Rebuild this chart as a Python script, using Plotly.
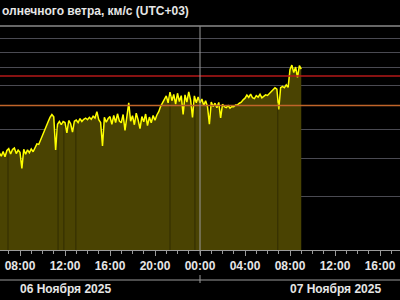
import numpy as np
import pandas as pd
import plotly.graph_objects as go

# ---- data -------------------------------------------------------------
start_time = "2025-11-06 06:10"
step_minutes = 10
speed_kms = [
    418, 408, 423, 406, 426,                 # 06h
    432, 415, 429, 434, 416, 427,            # 07h
    420, 372, 430, 414, 428, 419,            # 08h
    431, 422, 438, 448, 446, 463,            # 09h
    478, 496, 512, 530, 548, 560,            # 10h
    550, 428, 520, 531, 518, 531,            # 11h
    527, 487, 535, 522, 490, 532,            # 12h
    537, 527, 543, 531, 540, 545,            # 13h
    538, 548, 540, 553, 545, 572,            # 14h
    538, 527, 441, 548, 528, 543,            # 15h
    551, 520, 556, 527, 563, 533,            # 16h
    526, 560, 496, 547, 612, 532,            # 17h
    555, 518, 566, 537, 503, 551,            # 18h
    530, 562, 515, 549, 526, 556,            # 19h
    536, 558, 572, 596, 611, 628,            # 20h
    645, 612, 664, 622, 652, 606,            # 21h
    658, 618, 646, 560, 650, 615,            # 22h
    665, 625, 548, 645, 612, 640,            # 23h
    612, 630, 600, 622, 594, 520,            # 00h
    615, 595, 610, 590, 614, 546,            # 01h
    605, 594, 590, 599, 588, 595,            # 02h
    594, 602, 603, 610, 615, 626,            # 03h
    634, 649, 638, 654, 636, 632,            # 04h
    646, 639, 653, 635, 645, 650,            # 05h
    647, 657, 662, 672, 686, 679,            # 06h
    582, 687, 693, 686, 702, 688,            # 07h
    788, 815, 770, 803, 742, 812,            # 08h
    790,                                     # 09h
]
gap_times = ["2025-11-06 06:56", "2025-11-06 11:23", "2025-11-06 11:54",
             "2025-11-06 12:58", "2025-11-06 21:20", "2025-11-06 23:33",
             "2025-11-07 06:55"]
grid_values = [300, 400, 500, 600, 700, 800, 900, 1000]
threshold_red = 750
threshold_orange = 600
x_range = ["2025-11-06 06:13:20", "2025-11-07 17:46:40"]
y_range = [200, 1097]
midnight = "2025-11-07 00:00"
date_labels = ["06 Ноября 2025", "07 Ноября 2025"]
date_label_pos = ["2025-11-06 12:00", "2025-11-07 12:00"]
title_text = "олнечного ветра, км/с (UTC+03)"

times = pd.date_range(start_time, periods=len(speed_kms), freq=f"{step_minutes}min")

FONT = "Liberation Sans, Arial, sans-serif"
TXT = "#e6e6e6"

fig = go.Figure()
fig.add_trace(go.Scatter(
    x=times, y=speed_kms, mode="lines",
    line=dict(color="#ffff00", width=1.5),
    fill="tozeroy", fillcolor="#4a4302",
    hoverinfo="skip", showlegend=False,
))

shapes = []
# dark data-gap lines inside the filled area
t_num = times.astype("int64").to_numpy()
for g in gap_times:
    v = float(np.interp(pd.Timestamp(g).value, t_num, speed_kms))
    shapes.append(dict(type="line", xref="x", yref="y", x0=g, x1=g,
                       y0=y_range[0], y1=v * 0.97,
                       line=dict(color="rgba(0,0,0,0.35)", width=1), layer="above"))
# threshold lines
shapes.append(dict(type="line", xref="paper", yref="y", x0=0, x1=1,
                   y0=threshold_red, y1=threshold_red,
                   line=dict(color="#b41818", width=1.5), layer="above"))
shapes.append(dict(type="line", xref="paper", yref="y", x0=0, x1=1,
                   y0=threshold_orange, y1=threshold_orange,
                   line=dict(color="#c0642a", width=1.5), layer="above"))
# midnight line
shapes.append(dict(type="line", xref="x", yref="paper", x0=midnight, x1=midnight,
                   y0=-0.02, y1=1, line=dict(color="#9a9a9a", width=1), layer="above"))
# top border
shapes.append(dict(type="line", xref="paper", yref="paper", x0=0, x1=1, y0=1, y1=1,
                   line=dict(color="#8a8a8a", width=1.5), layer="above"))
# lower date line and its midnight tick
plot_h = 224.0
shapes.append(dict(type="line", xref="paper", yref="paper", x0=0, x1=1,
                   y0=-30 / plot_h, y1=-30 / plot_h,
                   line=dict(color="#9a9a9a", width=1)))
shapes.append(dict(type="line", xref="x", yref="paper", x0=midnight, x1=midnight,
                   y0=-25 / plot_h, y1=-33 / plot_h,
                   line=dict(color="#9a9a9a", width=1)))

annotations = [dict(text=title_text, xref="paper", yref="paper", x=0, y=1 + 15 / plot_h,
                    xanchor="left", yanchor="middle", showarrow=False,
                    font=dict(family=FONT, size=12, color=TXT, weight="bold"))]
for lab, pos in zip(date_labels, date_label_pos):
    annotations.append(dict(text=lab, xref="x", yref="paper", x=pos, y=-39 / plot_h,
                            xanchor="center", yanchor="middle", showarrow=False,
                            font=dict(family=FONT, size=12, color=TXT, weight="bold")))

fig.update_layout(
    width=400, height=300,
    margin=dict(l=0, r=0, t=26, b=50),
    paper_bgcolor="black", plot_bgcolor="black",
    shapes=shapes, annotations=annotations,
    xaxis=dict(
        type="date", range=x_range,
        tick0="2025-11-06 00:00", dtick=4 * 3600000, tickformat="%H:%M",
        ticks="outside", ticklen=5, tickcolor="#9a9a9a", tickwidth=1,
        minor=dict(dtick=3600000, ticks="outside", ticklen=3, tickcolor="#9a9a9a", showgrid=False),
        showline=True, linecolor="#9a9a9a", linewidth=1,
        showgrid=False, zeroline=False,
        tickfont=dict(family=FONT, size=12, color=TXT, weight="bold"),
    ),
    yaxis=dict(
        type="log", range=[np.log10(y_range[0]), np.log10(y_range[1])],
        tickvals=grid_values, showticklabels=False, ticks="",
        showgrid=True, gridcolor="#4a4a52", gridwidth=1,
        zeroline=False, showline=False,
    ),
)

fig.write_html("out.html")
